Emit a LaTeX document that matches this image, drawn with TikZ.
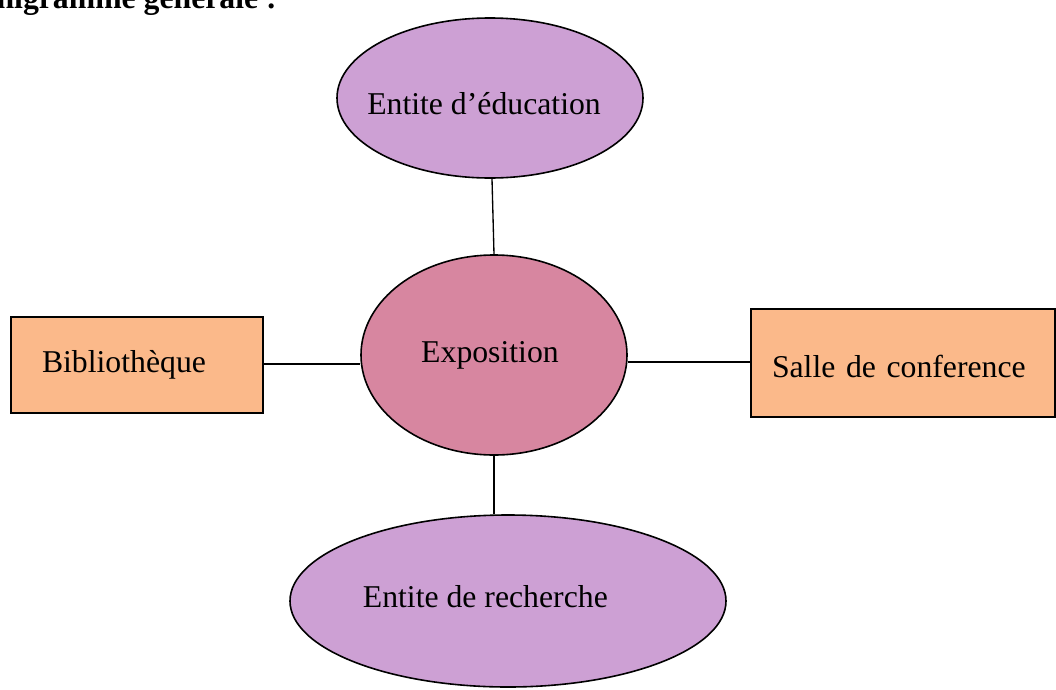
\documentclass[tikz,border=0pt]{standalone}
\usepackage{fontspec}
\setmainfont{Liberation Serif}
\usetikzlibrary{shapes.geometric}
\begin{document}
\begin{tikzpicture}[x=0.75pt,y=-0.75pt,
  every node/.style={font=\fontsize{23.8}{28}\selectfont},
  purplebox/.style={ellipse,draw=black,line width=1.2pt,inner sep=0pt,fill={rgb,255:red,205;green,160;blue,212}},
  centerbox/.style={ellipse,draw=black,line width=1.2pt,inner sep=0pt,fill={rgb,255:red,215;green,134;blue,160}},
  orangebox/.style={rectangle,draw=black,line width=1.2pt,inner ysep=0pt,align=left,fill={rgb,255:red,251;green,185;blue,138}},
  link/.style={draw=black,line width=1pt}]
\useasboundingbox (0,0) rectangle (1056,689);
\clip (0,0) rectangle (1056,689);
% title (cut off at top, as in the reference)
\node[anchor=base east,inner sep=0pt,font=\fontsize{23.8}{28}\selectfont\bfseries] (title) at (277,8) {Organigramme générale :};
% shapes
\node[purplebox,minimum width=229.5pt,minimum height=120pt,text height=24pt,text depth=0pt] (edu) at (490,98) {\makebox[0pt]{Entite d’éducation\hspace*{9pt}}};
\node[centerbox,minimum width=199.5pt,minimum height=150pt] (expo) at (494,355) {\makebox[0pt]{Exposition\hspace*{6pt}}};
\node[purplebox,minimum width=327pt,minimum height=129pt,text height=16pt,text depth=6pt] (rech) at (508,601) {\makebox[0pt]{Entite de recherche\hspace*{34pt}}};
\node[orangebox,minimum width=189pt,minimum height=72pt,inner xsep=23.25pt,text width=142.5pt] (bib) at (137,365) {Bibliothèque};
\node[orangebox,minimum width=228pt,minimum height=81pt,inner xsep=15.75pt,text width=196.5pt,text height=22pt,text depth=0pt] (sal) at (903,363) {Salle de conference};
% connectors
\draw[link] ([xshift=1.5pt]edu.south) -- (expo.north);
\draw[link] (expo.south) -- (expo.south |- rech.north);
\draw[link] (bib.east |- 0,364) -- (expo.west |- 0,364);
\draw[link] (expo.east |- 0,362) -- (sal.west |- 0,362);
\end{tikzpicture}
\end{document}
